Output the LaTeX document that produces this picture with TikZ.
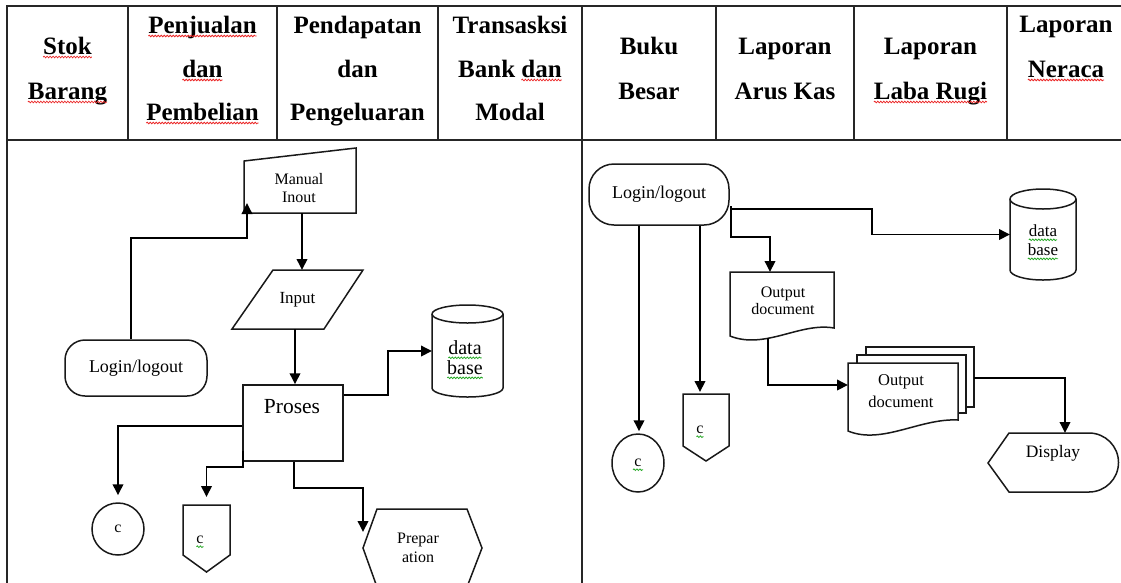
\documentclass[tikz,border=0pt]{standalone}
\usepackage{fontspec}
\setmainfont{Liberation Serif}
\usetikzlibrary{arrows.meta,decorations.pathmorphing,shapes.geometric}
\definecolor{sqred}{RGB}{235,40,40}
\definecolor{sqgreen}{RGB}{40,170,40}
\newcommand\squig[2]{\tikz[baseline=(sq.base)]{\node[inner sep=0pt,outer sep=0pt,draw=none,fill=none,anchor=base,minimum width=0pt,minimum height=0pt](sq) at (0,0){#2};\draw[overlay,draw=#1,line width=0.8pt,decorate,decoration={snake,amplitude=0.8pt,segment length=3pt}] ([yshift=-3pt]sq.base west) -- ([yshift=-3pt]sq.base east);}}
\begin{document}
\begin{tikzpicture}[x=1pt,y=-1pt,
  tbl/.style={line width=2.2pt, draw=black!85},
  shp/.style={line width=1.5pt, draw=black!90, fill=white},
  arr/.style={line width=1.9pt, -{Triangle[length=11pt,width=10.5pt]}},
  box/.style={inner sep=0pt, outer sep=0pt, draw=none},
  hd/.style={font=\bfseries\fontsize{25}{30}\selectfont, anchor=base, inner sep=0pt},
  bt/.style={align=center, inner sep=0pt}
]
\useasboundingbox (0,0) rectangle (1121,582);
\clip (0,0) rectangle (1121,582);
% ---------- table ----------
\draw[tbl] (6,6) -- (1130,6);
\draw[tbl] (6,140) -- (1130,140);
\draw[tbl] (7,5) -- (7,600);
\draw[tbl] (582,5) -- (582,600);
\foreach \cx in {128,277,438,716,854,1007} \draw[tbl] (\cx,5) -- (\cx,140);
% ---------- header ----------
\node[hd] (h1a) at (67.5,54) {\squig{sqred}{Stok}};
\node[hd] (h1b) at (67.5,99) {\squig{sqred}{Barang}};
\node[hd] (h2a) at (202.5,33) {\squig{sqred}{Penjualan}};
\node[hd] (h2b) at (202.5,77) {\squig{sqred}{dan}};
\node[hd] (h2c) at (202.5,120) {\squig{sqred}{Pembelian}};
\node[hd] (h3a) at (357.5,33) {Pendapatan};
\node[hd] (h3b) at (357.5,77) {dan};
\node[hd] (h3c) at (357.5,120) {Pengeluaran};
\node[hd] (h4a) at (510,33) {Transasksi};
\node[hd] (h4b) at (510,77) {Bank \squig{sqred}{dan}};
\node[hd] (h4c) at (510,120) {Modal};
\node[hd] (h5a) at (649,54) {Buku};
\node[hd] (h5b) at (649,99) {Besar};
\node[hd] (h6a) at (785,54) {Laporan};
\node[hd] (h6b) at (785,99) {Arus Kas};
\node[hd] (h7a) at (930.5,54) {Laporan};
\node[hd] (h7b) at (930.5,99) {\squig{sqred}{Laba Rugi}};
\node[hd] (h8a) at (1066,32) {Laporan};
\node[hd] (h8b) at (1066,77) {\squig{sqred}{Neraca}};
% ---------- left panel ----------
% manual input
\draw[shp] (244,161) -- (356,148) -- (356,213) -- (244,213) -- cycle;
\node[box, minimum width=112pt, minimum height=65pt] (man) at (300,180.5) {};
\node[bt, font=\fontsize{16}{18}\selectfont] (manT) at (299,188) {Manual\\Inout};
% input
\draw[shp] (273,270) -- (363,270) -- (324,329) -- (232,329) -- cycle;
\node[box, minimum width=131pt, minimum height=59pt, font=\fontsize{17}{20}\selectfont] (inp) at (297.5,299.5) {Input};
% proses
\node[shp, minimum width=100pt, minimum height=76pt, inner sep=0pt] (pro) at (293,423) {};
\node[bt, font=\fontsize{21.5}{24}\selectfont] (proT) at (292,407) {Proses};
% database 1
\draw[shp] (432,314) -- (432,388) arc[start angle=180,end angle=0,x radius=35.5,y radius=9] -- (503,314) arc[start angle=0,end angle=-180,x radius=35.5,y radius=9] -- cycle;
\draw[shp, fill=none] (432,314) arc[start angle=180,end angle=0,x radius=35.5,y radius=9];
\node[box, minimum width=71pt, minimum height=92pt] (db1) at (467.5,351) {};
\node[bt, font=\fontsize{20}{20}\selectfont] (db1T) at (465,358) {\squig{sqgreen}{data}\\\squig{sqgreen}{base}};
% login 1
\node[shp, rounded corners=20pt, minimum width=142pt, minimum height=56pt, inner sep=0pt, font=\fontsize{18}{20}\selectfont] (log1) at (136,368) {Login/logout};
% connector circle
\node[shp, circle, minimum size=52pt, inner sep=0pt, font=\fontsize{16}{16}\selectfont] (c1) at (118,529) {c};
% off-page 1
\draw[shp] (183,505) -- (230,505) -- (230,555) -- (206.5,572) -- (183,555) -- cycle;
\node[box, minimum width=47pt, minimum height=67pt] (o1) at (206.5,538.5) {};
\node[bt, font=\fontsize{16}{16}\selectfont] (o1T) at (200,540) {\squig{sqgreen}{c}};
% preparation
\draw[shp] (363,548) -- (377,509) -- (467,509) -- (482,548) -- (467,587) -- (377,587) -- cycle;
\node[box, minimum width=119pt, minimum height=78pt] (prep) at (422.5,548) {};
\node[bt, font=\fontsize{16}{19}\selectfont] (prepT) at (418,547.5) {Prepar\\ation};
% left connectors
\draw[arr] ([xshift=-5pt]log1.north) -- ++(0,-101) -| ([xshift=3pt,yshift=10pt]man.south west);
\draw[arr] ([xshift=2pt]man.south) -- ([xshift=4.5pt]inp.north);
\draw[arr] ([xshift=-2.5pt]inp.south) -- ([xshift=2pt]pro.north);
\draw[arr] ([yshift=-11pt]pro.north east) -| ([xshift=-44pt]db1.west) -- (db1.west);
\draw[arr] ([yshift=-42pt]pro.north west) -| ([yshift=7pt]c1.north);
\draw[arr] ([xshift=1pt,yshift=11pt]pro.south west) -- ++(0,16) -| ([yshift=8pt]o1.north);
\draw[arr] ([xshift=1pt]pro.south) -- ++(0,26) -| ([yshift=16pt]prep.west);
% ---------- right panel ----------
\node[shp, rounded corners=25pt, minimum width=140pt, minimum height=61pt, inner sep=0pt, font=\fontsize{18}{20}\selectfont] (log2) at (659,194.5) {Login/logout};
\node[shp, ellipse, minimum width=52pt, minimum height=58pt, inner sep=0pt, font=\fontsize{16}{16}\selectfont] (c2) at (638,463) {\squig{sqgreen}{c}};
% off-page 2
\draw[shp] (683,394) -- (729,394) -- (729,446) -- (706,461) -- (683,446) -- cycle;
\node[box, minimum width=46pt, minimum height=67pt] (o2) at (706,427.5) {};
\node[bt, font=\fontsize{16}{16}\selectfont] (o2T) at (700,430) {\squig{sqgreen}{c}};
% database 2
\draw[shp] (1010,199) -- (1010,270) arc[start angle=180,end angle=0,x radius=33,y radius=10] -- (1076,199) arc[start angle=0,end angle=-180,x radius=33,y radius=10] -- cycle;
\draw[shp, fill=none] (1010,199) arc[start angle=180,end angle=0,x radius=33,y radius=10];
\node[box, minimum width=66pt, minimum height=91pt] (db2) at (1043,234.5) {};
\node[bt, font=\fontsize{17}{19}\selectfont] (db2T) at (1043,240.5) {\squig{sqgreen}{data}\\\squig{sqgreen}{base}};
% output document
\draw[shp] (730,272) -- (834,272) -- (834,328) .. controls (800,322) and (765,350) .. (730,336) -- cycle;
\node[box, minimum width=104pt, minimum height=65pt] (doc1) at (782,304.5) {};
\node[bt, font=\fontsize{16}{17}\selectfont] (doc1T) at (783,300.5) {Output\\document};
% multi document
\draw[shp] (866,347) rectangle (974,407);
\draw[shp] (857,355) rectangle (966,413);
\draw[shp] (848,363) -- (958,363) -- (958,420) .. controls (920,418) and (882,445) .. (848,431) -- cycle;
\node[box, minimum width=110pt, minimum height=70pt] (mdoc) at (903,398) {};
\node[bt, font=\fontsize{16.5}{22}\selectfont] (mdocT) at (901,391) {Output\\document};
% display
\draw[shp] (988,463) -- (1009,433) -- (1089,433) arc[start angle=-90,end angle=90,x radius=29.5,y radius=29.5] -- (1009,492) -- cycle;
\node[box, minimum width=130pt, minimum height=59pt] (disp) at (1053,462.5) {};
\node[bt, font=\fontsize{17.5}{20}\selectfont] (dispT) at (1053,453) {Display};
% right connectors
\draw[arr] ([xshift=-20pt]log2.south) -- ([xshift=1pt,yshift=2pt]c2.north);
\draw[arr] ([xshift=41pt]log2.south) -- ([xshift=-6pt,yshift=2pt]o2.north);
\draw[arr] ([yshift=-46pt]log2.north east) -- ++(142,0) |- (db2.west);
\draw[arr] ([xshift=1pt,yshift=-43pt]log2.north east) -- ++(0,31) -| ([xshift=-12pt]doc1.north);
\draw[arr] ([xshift=-14pt,yshift=-1pt]doc1.south) |- ([yshift=13pt]mdoc.west);
\draw[arr] ([xshift=16pt,yshift=-15pt]mdoc.north east) -| ([xshift=12pt]disp.north);
\end{tikzpicture}
\end{document}
